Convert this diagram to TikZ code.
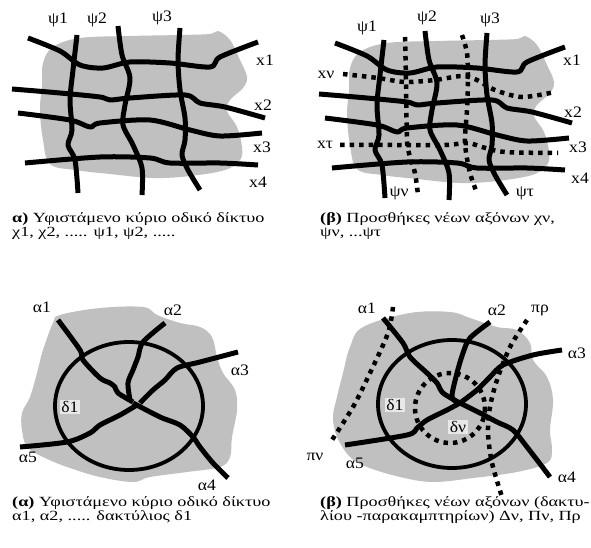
\documentclass[tikz,border=0pt]{standalone}
\usepackage{fontspec}
\setmainfont{Liberation Serif}
\newfontfamily\capfont{Liberation Serif}[FakeStretch=1.3]
\newfontfamily\lblfont{Liberation Serif}[FakeStretch=1.1]
\definecolor{blobgray}{RGB}{192,192,192}
\definecolor{tagbg}{RGB}{232,232,232}
\tikzset{
  road/.style={line width=5pt, line join=round},
  newroad/.style={line width=4.5pt, dash pattern=on 4.5pt off 5pt},
  blob/.style={fill=blobgray},
  ringline/.style={line width=3.8pt},
  lbl/.style={inner sep=0pt, font=\lblfont\fontsize{16}{17}\selectfont},
  tag/.style={fill=tagbg, inner sep=1.5pt, font=\lblfont\fontsize{16}{17}\selectfont},
  captxt/.style={anchor=base west, align=left, inner sep=0pt, font=\capfont\fontsize{14}{14}\selectfont},
  sm/.style={smooth, tension=0.5}
}
\begin{document}
\begin{tikzpicture}[x=1pt,y=-1pt]
\useasboundingbox (0,0) rectangle (591,548);
\fill[white] (0,0) rectangle (591,548);

% ===== top-left panel =====
\fill[blob] plot[smooth cycle, tension=0.6] coordinates {(43,63) (53,47) (80,38) (130,36) (180,35) (210,34) (218,31) (230,40) (240,60) (247,77) (243,88) (230,100) (227,111) (237,127) (242,147) (240,160) (225,170) (190,176) (153,178) (110,174) (75,170) (50,164) (43,140) (40,110) (42,85)};
\draw[road] plot[sm] coordinates {(28,38) (60,51) (80,65) (103,68) (130,62) (170,63) (210,67) (220,57) (258,42)};
\draw[road] plot[sm] coordinates {(12,89) (60,93) (100,97) (110,100) (130,98) (185,95) (200,103) (225,107) (265,118)};
\draw[road] plot[sm] coordinates {(18,113) (70,120) (90,127) (100,123) (150,120) (190,130) (220,136) (262,133)};
\draw[road] plot[sm] coordinates {(25,163) (100,157) (150,158) (170,163) (220,163) (258,165)};
\draw[road] plot[sm] coordinates {(77,35) (73,70) (70,100) (72,130) (68,145) (75,160) (78,193)};
\draw[road] plot[sm] coordinates {(118,26) (122,55) (130,78) (125,105) (123,125) (133,145) (142,168) (142,195)};
\draw[road] plot[sm] coordinates {(180,28) (178,60) (180,90) (185,118) (185,140) (182,155) (188,170) (200,190)};
\node[lbl] (tl-psi1) at (58,20) {ψ1};
\node[lbl] (tl-psi2) at (97,20) {ψ2};
\node[lbl] (tl-psi3) at (162,18) {ψ3};
\node[lbl] (tl-x1) at (265,60) {x1};
\node[lbl] (tl-x2) at (263,105) {x2};
\node[lbl] (tl-x3) at (262,147) {x3};
\node[lbl] (tl-x4) at (258,182) {x4};
\node[captxt] (cap-a) at (12,236) {\textbf{α)} Υφιστάμενο κύριο οδικό δίκτυο\\χ1, χ2, ..... ψ1, ψ2, .....};

% ===== top-right panel =====
\begin{scope}[shift={(307,5)}]
\fill[blob] plot[smooth cycle, tension=0.6] coordinates {(43,63) (53,47) (80,38) (130,36) (180,35) (210,34) (218,31) (230,40) (240,60) (247,77) (243,88) (230,100) (227,111) (237,127) (242,147) (240,160) (225,170) (190,176) (153,178) (110,174) (75,170) (50,164) (43,140) (40,110) (42,85)};
\draw[road] plot[sm] coordinates {(28,38) (60,51) (80,65) (103,68) (130,62) (170,63) (210,67) (220,57) (258,42)};
\draw[road] plot[sm] coordinates {(12,89) (60,93) (100,97) (110,100) (130,98) (185,95) (200,103) (225,107) (265,118)};
\draw[road] plot[sm] coordinates {(18,113) (70,120) (90,127) (100,123) (150,120) (190,130) (220,136) (262,133)};
\draw[road] plot[sm] coordinates {(25,163) (100,157) (150,158) (170,163) (220,163) (258,165)};
\draw[road] plot[sm] coordinates {(77,35) (73,70) (70,100) (72,130) (68,145) (75,160) (78,193)};
\draw[road] plot[sm] coordinates {(118,26) (122,55) (130,78) (125,105) (123,125) (133,145) (142,168) (142,195)};
\draw[road] plot[sm] coordinates {(180,28) (178,60) (180,90) (185,118) (185,140) (182,155) (188,170) (200,190)};
\end{scope}
\draw[newroad] plot[sm] coordinates {(343,74) (378,78) (405,82) (435,80) (462,76) (477,80) (495,90) (522,97) (555,92)};
\draw[newroad] plot[sm] coordinates {(340,145) (395,145) (445,145) (468,143) (482,147) (505,152) (558,153)};
\draw[newroad] plot[sm] coordinates {(405,37) (406,80) (407,140) (410,157) (415,173) (418,195)};
\draw[newroad] plot[sm] coordinates {(462,35) (467,53) (468,80) (467,110) (465,143) (470,173) (477,193)};
\node[lbl] (tr-psi1) at (367,28) {ψ1};
\node[lbl] (tr-psi2) at (427,18) {ψ2};
\node[lbl] (tr-psi3) at (490,20) {ψ3};
\node[lbl] (tr-x1) at (572,60) {x1};
\node[lbl] (tr-x2) at (573,112) {x2};
\node[lbl] (tr-x3) at (578,147) {x3};
\node[lbl] (tr-x4) at (580,178) {x4};
\node[lbl] (tr-xn) at (326,75) {xν};
\node[lbl] (tr-xt) at (325,145) {xτ};
\node[lbl] (tr-psin) at (399,193) {ψν};
\node[lbl] (tr-psit) at (525,193) {ψτ};
\node[captxt] (cap-b) at (320,236) {\textbf{(β)} Προσθήκες νέων αξόνων χν,\\ψν, ...ψτ};

% ===== bottom-left panel =====
\fill[blob] plot[smooth cycle, tension=0.6] coordinates {(60,315) (100,308) (143,307) (157,315) (180,323) (200,327) (212,337) (217,357) (223,373) (235,390) (237,410) (232,437) (230,457) (220,467) (187,472) (150,477) (133,482) (100,477) (67,467) (43,457) (27,447) (22,430) (22,413) (30,397) (37,373) (43,350) (53,323)};
\draw[ringline] (129,406) ellipse [x radius=74, y radius=64];
\draw[road] plot[sm] coordinates {(58,320) (80,350) (83,360) (100,378) (110,383) (115,387) (118,393) (133,402)};
\draw[road] plot[sm] coordinates {(165,323) (143,342) (138,357) (133,370) (128,383) (130,400)};
\draw[road] plot[sm] coordinates {(238,352) (200,362) (177,368) (165,380) (153,390) (140,403)};
\draw[road] plot[sm] coordinates {(20,447) (67,442) (90,433) (100,425) (120,415) (137,405)};
\draw[road] plot[sm] coordinates {(133,403) (160,417) (180,425) (193,437) (200,447) (213,463) (228,478)};
\node[tag] (bl-d1) at (70,407) {δ1};
\node[lbl] (bl-a1) at (42,307) {α1};
\node[lbl] (bl-a2) at (173,310) {α2};
\node[lbl] (bl-a3) at (240,370) {α3};
\node[lbl] (bl-a4) at (207,485) {α4};
\node[lbl] (bl-a5) at (28,457) {α5};
\node[captxt] (cap-c) at (12,520) {\textbf{(α)} Υφιστάμενο κύριο οδικό δίκτυο\\α1, α2, ..... δακτύλιος δ1};

% ===== bottom-right panel =====
\fill[blob] plot[smooth cycle, tension=0.6] coordinates {(363,327) (410,313) (450,312) (470,318) (497,327) (517,330) (530,343) (533,360) (547,377) (553,400) (550,430) (552,450) (547,463) (517,472) (473,478) (433,482) (400,477) (367,467) (350,457) (337,437) (333,417) (337,397) (343,373) (350,347)};
\draw[ringline] (452,404) ellipse [x radius=74, y radius=64];
\draw[newroad] (450,408) circle [radius=35];
\draw[newroad] plot[sm] coordinates {(393,307) (388,333) (370,373) (353,407) (330,443)};
\draw[newroad] plot[sm] coordinates {(527,320) (510,347) (497,380) (490,407) (488,433) (492,463) (502,497)};
\draw[road] plot[sm] coordinates {(383,318) (403,343) (410,357) (427,373) (437,383) (443,393) (460,403)};
\draw[road] plot[sm] coordinates {(490,322) (470,338) (463,353) (457,373) (452,397) (460,403)};
\draw[road] plot[sm] coordinates {(562,350) (533,355) (503,365) (490,377) (477,390) (460,403)};
\draw[road] plot[sm] coordinates {(345,445) (407,435) (417,428) (427,420) (447,410) (460,403)};
\draw[road] plot[sm] coordinates {(460,403) (480,413) (497,422) (513,430) (527,447) (550,477)};
\node[tag] (br-d1) at (395,405) {δ1};
\node[tag] (br-dn) at (458,427) {δν};
\node[lbl] (br-a1) at (367,308) {α1};
\node[lbl] (br-a2) at (497,310) {α2};
\node[lbl] (br-pr) at (540,310) {πρ};
\node[lbl] (br-a3) at (577,353) {α3};
\node[lbl] (br-a4) at (567,477) {α4};
\node[lbl] (br-a5) at (355,463) {α5};
\node[lbl] (br-pn) at (315,457) {πν};
\node[captxt] (cap-d) at (320,520) {\textbf{(β)} Προσθήκες νέων αξόνων (δακτυ-\\λίου -παρακαμπτηρίων) Δν, Πν, Πρ};
\end{tikzpicture}
\end{document}
